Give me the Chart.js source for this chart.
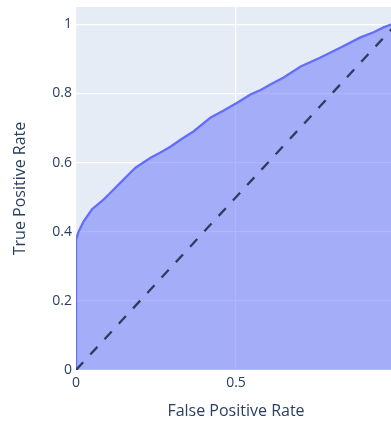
<!DOCTYPE html>
<html>
<head>
<meta charset="utf-8">
<script src="https://cdn.jsdelivr.net/npm/chart.js@4/dist/chart.umd.min.js"></script>
<style>
  html, body { margin: 0; padding: 0; background: #ffffff; overflow: hidden; }
  #wrap { width: 400px; height: 421px; }
</style>
</head>
<body>
<div id="wrap"><canvas id="roc" width="400" height="421"></canvas></div>
<script>
// ROC curve: false positive rate vs true positive rate
const fprValues = [0, 0, 0.008, 0.024, 0.05, 0.086, 0.11, 0.139, 0.186, 0.233, 0.264, 0.295, 0.33, 0.367, 0.42, 0.46, 0.505, 0.545, 0.577, 0.61, 0.649, 0.702, 0.764, 0.827, 0.889, 0.93, 0.961, 0.986, 1];
const tprValues = [0, 0.377, 0.40, 0.43, 0.465, 0.493, 0.515, 0.542, 0.585, 0.614, 0.629, 0.646, 0.668, 0.69, 0.73, 0.75, 0.774, 0.797, 0.81, 0.827, 0.846, 0.878, 0.904, 0.933, 0.962, 0.977, 0.991, 1.0, 1.0];

// Chance diagonal
const diagX = [0, 1];
const diagY = [0, 1];

// Axis ticks
const xTicks = [0, 0.5, 1];
const yTicks = [0, 0.2, 0.4, 0.6, 0.8, 1];

const xTitle = 'False Positive Rate';
const yTitle = 'True Positive Rate';

const INK = '#2a3f5f';
const FONT = '"Open Sans", "DejaVu Sans", sans-serif';

const plotBg = {
  id: 'plotBg',
  beforeDraw(chart) {
    const a = chart.chartArea;
    const ctx = chart.ctx;
    ctx.save();
    ctx.fillStyle = '#E5ECF6';
    ctx.fillRect(a.left, a.top, a.right - a.left, a.bottom - a.top);
    ctx.restore();
  }
};

new Chart(document.getElementById('roc'), {
  type: 'line',
  data: {
    datasets: [
      {
        label: 'diagonal',
        data: diagX.map((x, i) => ({ x, y: diagY[i] })),
        borderColor: INK,
        borderWidth: 2.3,
        borderDash: [10.5, 10.5],
        pointRadius: 0,
        fill: false,
        order: 0
      },
      {
        label: 'ROC',
        data: fprValues.map((x, i) => ({ x, y: tprValues[i] })),
        borderColor: '#636efa',
        backgroundColor: 'rgba(99,110,250,0.5)',
        borderWidth: 2.3,
        pointRadius: 0,
        tension: 0,
        fill: 'origin',
        order: 1
      }
    ]
  },
  plugins: [plotBg],
  options: {
    responsive: false,
    animation: false,
    layout: { padding: { top: 7, right: 4, left: 0, bottom: 0 } },
    plugins: { legend: { display: false }, tooltip: { enabled: false } },
    scales: {
      x: {
        type: 'linear',
        min: 0,
        max: 1,
        afterBuildTicks(scale) { scale.ticks = xTicks.map(v => ({ value: v })); },
        afterFit(scale) {
          scale.height = 51;
          scale.paddingLeft = 0;
          scale.paddingRight = 0;
        },
        grid: { color: '#ffffff', lineWidth: 1.2, drawTicks: false },
        border: { display: false },
        ticks: {
          padding: 5,
          color: INK,
          font: { family: FONT, size: 14 },
          maxRotation: 0,
          autoSkip: false,
          callback: v => String(v)
        },
        title: {
          display: true,
          text: xTitle,
          color: INK,
          font: { family: FONT, size: 16 },
          padding: { top: 0, bottom: 0 }
        }
      },
      y: {
        type: 'linear',
        min: 0,
        max: 1.05,
        afterBuildTicks(scale) { scale.ticks = yTicks.map(v => ({ value: v })); },
        afterFit(scale) {
          scale.width = 76;
          scale.paddingTop = 0;
          scale.paddingBottom = 0;
        },
        grid: { color: '#ffffff', lineWidth: 1.2, drawTicks: false },
        border: { display: false },
        ticks: {
          padding: 4,
          color: INK,
          font: { family: FONT, size: 14 },
          autoSkip: false,
          callback: v => String(v)
        },
        title: {
          display: true,
          text: yTitle,
          color: INK,
          font: { family: FONT, size: 16 },
          padding: { top: 11, bottom: 0 }
        }
      }
    }
  }
});
</script>
</body>
</html>
